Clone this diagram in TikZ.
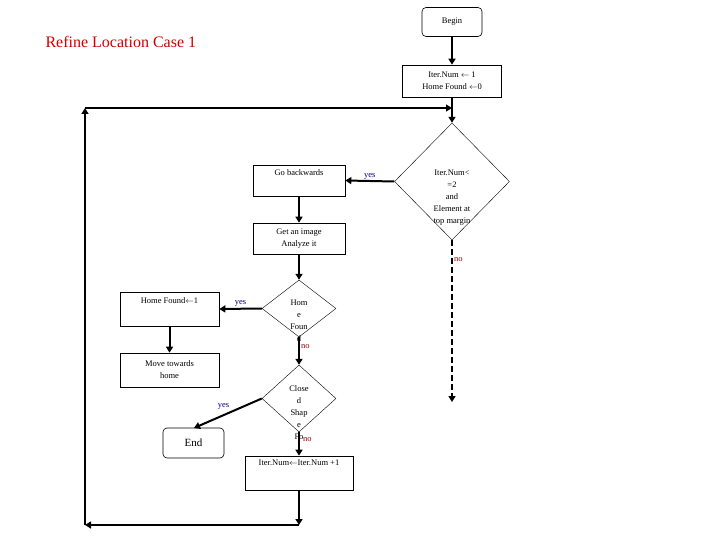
\documentclass[tikz,border=0pt]{standalone}
\usepackage{fontspec}
\setmainfont{Liberation Serif}
\usetikzlibrary{shapes.geometric,arrows.meta}
\begin{document}
\begin{tikzpicture}[x=1pt,y=-1pt,
  box/.style={draw,semithick,minimum width=#1,inner sep=0pt},
  box/.default=92pt,
  dia/.style={draw,thin,diamond,inner sep=0pt,minimum width=#1,minimum height=#1},
  txt/.style={font=\fontsize{8.5}{12}\selectfont,align=center,inner sep=0pt},
  flow/.style={line width=2pt,-{Triangle[width=7pt,length=6pt]}},
  yes/.style={font=\fontsize{8.5}{9}\selectfont,text=blue!50!black,inner sep=1pt},
  no/.style={font=\fontsize{8.5}{9}\selectfont,text=red!60!black,inner sep=1pt},
]
\useasboundingbox (0,0) rectangle (720,540);
\node[text=red!80!black,font=\fontsize{16}{18}\selectfont,anchor=west] (title) at (42,42) {Refine Location Case 1};
\node[box=60pt,minimum height=29pt,rounded corners=4pt,txt] (begin) at (452,22) {Begin};
\node[box=99pt,minimum height=32pt,txt] (init) at (452,81) {Iter.Num $\leftarrow$ 1\\Home Found $\leftarrow$0};
\node[dia=115pt,minimum height=117pt] (d1) at (452,181.5) {};
\node[txt] (d1t) at (452,198) {Iter.Num<\\=2\\and\\Element at\\top margin};
\node[box,minimum height=31pt] (back) at (299,180.5) {};
\node[txt,anchor=north] (backt) at (299,169) {Go backwards};
\node[box,minimum height=31pt,txt] (img) at (299,238.5) {Get an image\\Analyze it};
\node[dia=74pt,minimum height=57pt] (d2) at (299,308.5) {};
\node[txt] (d2t) at (299,321) {Hom\\e\\Foun\\d};
\node[box=99pt,minimum height=34pt] (hf) at (169.5,309) {};
\node[txt,anchor=north] (hft) at (169.5,297) {Home Found$\leftarrow$1};
\node[box=99pt,minimum height=34pt,txt] (move) at (169.5,370) {Move towards\\home};
\node[dia=74pt,minimum height=67pt] (d3) at (299,398.5) {};
\node[txt,anchor=north] (d3t) at (299,385) {Close\\d\\Shap\\e\\Fo};
\node[box=61pt,minimum height=30pt,rounded corners=4pt,font=\fontsize{11}{12}\selectfont] (end) at (193.5,443) {End};
\node[box=108pt,minimum height=34pt] (inc) at (299,473) {};
\node[txt,anchor=north] (inct) at (299,460) {Iter.Num$\leftarrow$Iter.Num +1};
\coordinate (br) at (299,525);
\coordinate (bl) at (85,525);
\coordinate (tl) at (85,108);
\coordinate (tr) at (452,108);
\coordinate (nodash) at (452,402);
\coordinate (endtop) at (194,428);
\draw[flow] (begin) -- (init);
\draw[flow] (init) -- (d1.north);
\draw[flow] (d1.west) -- node[yes,above] {yes} (back.east);
\draw[flow] (back) -- (img);
\draw[flow] (img) -- (d2.north);
\draw[flow] (d2.west) -- node[yes,above] {yes} (hf.east);
\draw[flow] (hf) -- (move);
\draw[flow] (d2.south) -- node[no,right,pos=0.35] {no} (d3.north);
\draw[flow] (d3.west) -- node[yes,above left,pos=0.45] {yes} (endtop);
\draw[flow] (d3.south) -- node[no,right,pos=0.3,xshift=2pt] {no} (inc.north);
\draw[flow,dash pattern=on 6pt off 3pt] (d1.south) -- node[no,right,pos=0.12] {no} (nodash);
\draw[flow] (inc) -- (br);
\draw[flow] (br) -- (bl);
\draw[flow] (bl) -- (tl);
\draw[line width=1.1pt,-{Triangle[width=7pt,length=6pt]}] (tl) -- (tr);
\end{tikzpicture}
\end{document}
